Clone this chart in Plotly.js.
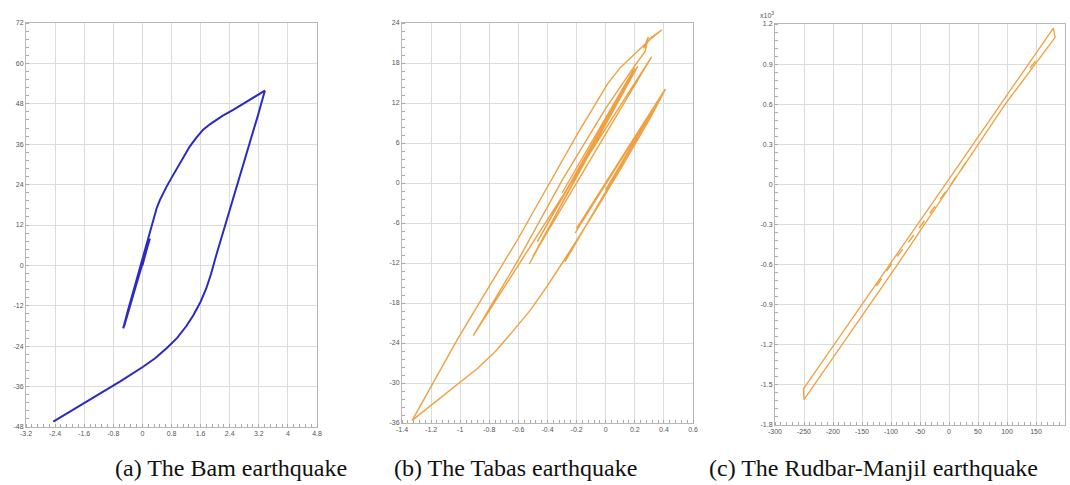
<!DOCTYPE html>
<html>
<head>
<meta charset="utf-8">
<script src="https://cdn.plot.ly/plotly-3.0.1.min.js"></script>
<style>
  html, body { margin: 0; padding: 0; background: #fff; }
  #chart { width: 1070px; height: 485px; }
</style>
</head>
<body>
<div id="chart"></div>
<script>
// ---------- (a) The Bam earthquake ----------
const bamX = [0, 0.2, -0.5, 0.18, -0.53, 0.15, -0.45, 0.207, -0.527,
  -0.4, -0.16, 0.07, 0.207, 0.3, 0.39, 0.48, 0.57, 0.665, 0.8, 0.94, 0.9, 0.98, 1.12, 1.3, 1.49, 1.67, 1.855, 2.2, 2.495, 2.95, 3.366,
  3.18, 2.95, 2.63, 2.40, 2.2, 2.03, 1.88, 1.75, 1.6, 1.4, 1.21, 0.95, 0.665, 0.35, 0.02, -0.3, -0.62, -2.45];
const bamY = [0, 8, -18, 7.5, -18.7, 6.5, -16, 8.0, -18.7,
  -13.5, -4.3, 4.6, 10.5, 14.0, 16.9, 19.4, 21.6, 23.4, 26.0, 28.6, 28.1, 29.4, 32.3, 35.3, 38.0, 40.3, 41.9, 44.4, 46.2, 49.2, 51.9,
  44.7, 36.4, 25.4, 17.0, 9.6, 3.0, -2.8, -7.0, -10.8, -14.8, -18.0, -21.6, -24.6, -27.6, -30.1, -32.3, -34.5, -46.4];
const bamXTicks = [-3.2, -2.4, -1.6, -0.8, 0, 0.8, 1.6, 2.4, 3.2, 4, 4.8];
const bamXText = ['-3.2', '-2.4', '-1.6', '-0.8', '0', '0.8', '1.6', '2.4', '3.2', '4', '4.8'];
const bamYTicks = [-48, -36, -24, -12, 0, 12, 24, 36, 48, 60, 72];
const bamYText = ['-48', '-36', '-24', '-12', '0', '12', '24', '36', '48', '60', '72'];

// ---------- (b) The Tabas earthquake ----------
const tabasX = [-0.3, 0.19, -0.525, 0.2, -0.47, 0.22, -0.5, 0.316, -0.91, -0.6, -0.3, 0.0, 0.2, 0.27, 0.293, 0.26, 0.31, 0.385,
  0.313, 0.2, 0.1, 0.014, -0.193, -0.4, -0.607, -0.814, -1.02, -1.33,
  -1.15, -1.0, -0.88, -0.76, -0.64, -0.515, -0.4, -0.29, -0.18, -0.08, 0.1, 0.3, 0.408,
  -0.21, 0.4, -0.28, 0.41, -0.2, 0.39, 0.0];
const tabasY = [-1.5, 16.95, -12.15, 17.2, -8.8, 17.5, -11, 18.95, -22.9, -11.5, 0.4, 11.2, 17.6, 19.7, 21.9, 20.2, 21.8, 22.95,
  21.7, 19.4, 17.3, 14.9, 7.4, -0.56, -8.55, -16, -23.5, -35.6,
  -32.5, -30, -27.8, -25.3, -22.3, -19, -15.4, -11.7, -8, -4.5, 2, 9.5, 13.95,
  -7.5, 13.7, -11.8, 14.1, -6.8, 13.4, -1];
const tabasXTicks = [-1.4, -1.2, -1, -0.8, -0.6, -0.4, -0.2, 0, 0.2, 0.4, 0.6];
const tabasXText = ['-1.4', '-1.2', '-1', '-0.8', '-0.6', '-0.4', '-0.2', '0', '0.2', '0.4', '0.6'];
const tabasYTicks = [-36, -30, -24, -18, -12, -6, 0, 6, 12, 18, 24];
const tabasYText = ['-36', '-30', '-24', '-18', '-12', '-6', '0', '6', '12', '18', '24'];

// ---------- (c) The Rudbar-Manjil earthquake (y in x10^3) ----------
const rudbarX = [0, 86.8, 180, 183, 97, -93, -250, -251, -101, 0];
const rudbarY = [0.04, 0.588, 1.17, 1.10, 0.6, -0.627, -1.61, -1.53, -0.59, 0.04];
const rudbarInnerX = [-125, -95, -60, 0, 40, null, 140, 155];
const rudbarInnerY = [-0.76, -0.57, -0.377, -0.02, 0.23, null, 0.87, 0.96];
const rudbarXTicks = [-300, -250, -200, -150, -100, -50, 0, 50, 100, 150, 200];
const rudbarXText = ['-300', '-250', '-200', '-150', '-100', '-50', '0', '50', '100', '150', '200'];
const rudbarYTicks = [-1.8, -1.5, -1.2, -0.9, -0.6, -0.3, 0, 0.3, 0.6, 0.9, 1.2];
const rudbarYText = ['-1.8', '-1.5', '-1.2', '-0.9', '-0.6', '-0.3', '0', '0.3', '0.6', '0.9', '1.2'];

const captions = ['(a) The Bam earthquake', '(b) The Tabas earthquake', '(c) The Rudbar-Manjil earthquake'];

const W = 1070, H = 485;
const BLUE = '#2b2bbf';
const ORANGE = '#f0a040';

function axis(range, vals, text, domain, anchor, minorStep) {
  return {
    range: range, domain: domain, anchor: anchor,
    tickmode: 'array', tickvals: vals, ticktext: text,
    showgrid: true, gridcolor: '#dcdcdc', gridwidth: 1,
    zeroline: false, showline: true, mirror: true, linecolor: '#b8b8b8', linewidth: 1,
    ticks: '', tickfont: {family: 'Liberation Sans, Arial, sans-serif', size: 7, color: '#555'},
    minor: {tickmode: 'linear', tick0: range[0], dtick: minorStep, ticks: 'inside', ticklen: 3, tickcolor: '#aaa', showgrid: false},
    fixedrange: true
  };
}

const px = (a, b) => [a / W, b / W];
const py = (top, bottom) => [1 - bottom / H, 1 - top / H];

const traces = [
  {x: bamX, y: bamY, xaxis: 'x', yaxis: 'y', mode: 'lines', line: {color: BLUE, width: 2}, hoverinfo: 'skip'},
  {x: tabasX, y: tabasY, xaxis: 'x2', yaxis: 'y2', mode: 'lines', line: {color: ORANGE, width: 1.4}, hoverinfo: 'skip'},
  {x: rudbarX, y: rudbarY, xaxis: 'x3', yaxis: 'y3', mode: 'lines', line: {color: ORANGE, width: 1.3}, hoverinfo: 'skip'},
  {x: rudbarInnerX, y: rudbarInnerY, xaxis: 'x3', yaxis: 'y3', mode: 'lines', line: {color: ORANGE, width: 1.4, dash: 'dash'}, hoverinfo: 'skip'}
];

const capFont = {family: 'Liberation Serif, Times New Roman, serif', size: 24, color: '#111'};

const layout = {
  width: W, height: H,
  margin: {l: 0, r: 0, t: 0, b: 0},
  paper_bgcolor: '#fff', plot_bgcolor: '#fff',
  showlegend: false,
  xaxis: axis([-3.2, 4.8], bamXTicks, bamXText, px(26, 317), 'y', 0.16),
  yaxis: axis([-48, 72], bamYTicks, bamYText, py(23, 427), 'x', 2.4),
  xaxis2: axis([-1.4, 0.6], tabasXTicks, tabasXText, px(402, 693), 'y2', 0.04),
  yaxis2: axis([-36, 24], tabasYTicks, tabasYText, py(23, 423), 'x2', 1.2),
  xaxis3: axis([-300, 200], rudbarXTicks, rudbarXText, px(775, 1065), 'y3', 10),
  yaxis3: axis([-1.8, 1.2], rudbarYTicks, rudbarYText, py(24, 425), 'x3', 0.06),
  annotations: [
    {xref: 'paper', yref: 'paper', x: 231 / W, y: 1 - 468 / H, text: captions[0], showarrow: false, font: capFont, xanchor: 'center', yanchor: 'middle'},
    {xref: 'paper', yref: 'paper', x: 515 / W, y: 1 - 468 / H, text: captions[1], showarrow: false, font: capFont, xanchor: 'center', yanchor: 'middle'},
    {xref: 'paper', yref: 'paper', x: 873 / W, y: 1 - 468 / H, text: captions[2], showarrow: false, font: capFont, xanchor: 'center', yanchor: 'middle'},
    {xref: 'paper', yref: 'paper', x: 767 / W, y: 1 - 15 / H, text: 'x10<sup>3</sup>', showarrow: false,
     font: {family: 'Liberation Sans, Arial, sans-serif', size: 7, color: '#555'}, xanchor: 'center', yanchor: 'middle'}
  ]
};

Plotly.newPlot('chart', traces, layout, {staticPlot: true, displayModeBar: false});
</script>
</body>
</html>
